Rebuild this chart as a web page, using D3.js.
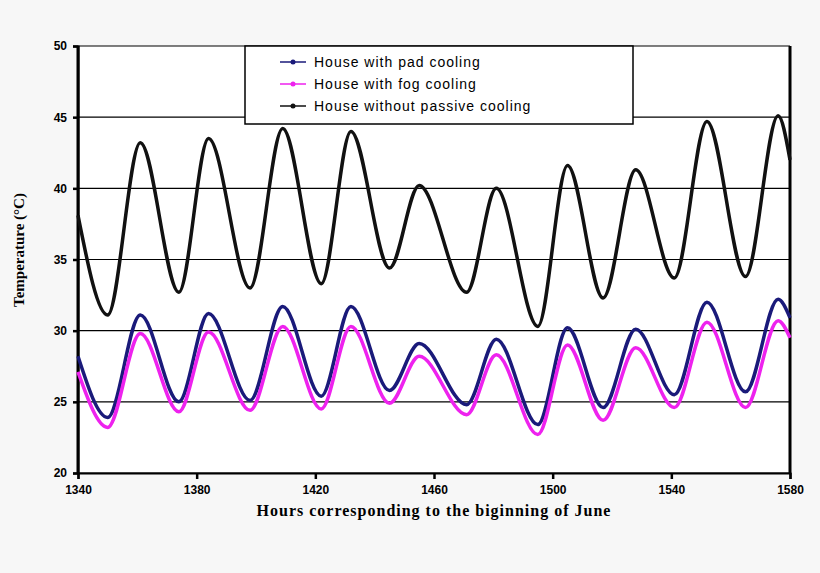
<!DOCTYPE html>
<html><head><meta charset="utf-8">
<script src="https://cdn.jsdelivr.net/npm/d3@7"></script>
<style>body{margin:0;background:#f7f7f7;}svg{display:block;font-family:"Liberation Sans",Arial,sans-serif;}</style>
</head><body>
<svg id="chart" width="820" height="573"></svg>
<script>
// hours of daily extremes
const hours = [1340,1350,1361,1374,1384,1398,1409,1422,1432,1445,1455,1471,1481,1495,1505,1517,1528,1541,1552,1565,1576,1580];
const padCooling = [28.2,23.9,31.1,25.0,31.2,25.1,31.7,25.4,31.7,25.8,29.1,24.8,29.4,23.4,30.2,24.6,30.1,25.5,32.0,25.7,32.2,30.9];
const fogCooling = [27.1,23.2,29.8,24.3,29.9,24.4,30.3,24.5,30.3,24.9,28.2,24.1,28.3,22.7,29.0,23.7,28.8,24.6,30.6,24.6,30.7,29.5];
const noCooling  = [38.1,31.1,43.2,32.7,43.5,33.0,44.2,33.3,44.0,34.4,40.2,32.7,40.0,30.3,41.6,32.3,41.3,33.7,44.7,33.8,45.1,42.0];
const xTicks = [1340,1380,1420,1460,1500,1540,1580];
const yTicks = [20,25,30,35,40,45,50];
const seriesNames = ['House with pad cooling','House with fog cooling','House without passive cooling'];
const seriesColors = ['#1a1a7a','#ee22ee','#111111'];

const svg = d3.select('#chart');
const m = {l:78, r:790, t:46, b:473};
const x = d3.scaleLinear().domain([1340,1580]).range([m.l,m.r]);
const y = d3.scaleLinear().domain([20,50]).range([m.b,m.t]);

svg.append('rect').attr('x',m.l).attr('y',m.t).attr('width',m.r-m.l).attr('height',m.b-m.t).attr('fill','#fff');

// grid
svg.selectAll('line.grid').data(yTicks).join('line')
  .attr('x1',m.l).attr('x2',m.r).attr('y1',d=>y(d)).attr('y2',d=>y(d))
  .attr('stroke','#000').attr('stroke-width',1.2);

svg.append('line').attr('x1',m.l).attr('x2',m.l).attr('y1',m.t).attr('y2',m.b).attr('stroke','#000').attr('stroke-width',3);
svg.append('line').attr('x1',m.r).attr('x2',m.r).attr('y1',m.t).attr('y2',m.b).attr('stroke','#000').attr('stroke-width',3);

// axes
const xa = svg.append('g').attr('transform','translate(0,'+m.b+')')
  .call(d3.axisBottom(x).tickValues(xTicks).tickFormat(d3.format('d')).tickSize(6).tickPadding(6));
const ya = svg.append('g').attr('transform','translate('+m.l+',0)')
  .call(d3.axisLeft(y).tickValues(yTicks).tickSize(5).tickPadding(6));
[xa,ya].forEach(g=>{
  g.select('.domain').attr('stroke','#000').attr('stroke-width',2);
  g.selectAll('.tick line').attr('stroke','#000').attr('stroke-width',2.5);
  g.selectAll('text').attr('font-size',12).attr('font-weight','bold').attr('fill','#000');
});

// lines
const line = d3.line().x(d=>x(d[0])).y(d=>y(d[1])).curve(d3.curveMonotoneX);
[padCooling,fogCooling,noCooling].forEach((vals,i)=>{
  svg.append('path').datum(hours.map((h,j)=>[h,vals[j]]))
    .attr('d',line).attr('fill','none').attr('stroke',seriesColors[i]).attr('stroke-width',3.5);
});

// legend
const lg = svg.append('g');
lg.append('rect').attr('x',245).attr('y',46).attr('width',388).attr('height',78)
  .attr('fill','#fff').attr('stroke','#000').attr('stroke-width',1.5);
seriesNames.forEach((n,i)=>{
  const yy = 62+i*22;
  lg.append('line').attr('x1',280).attr('x2',306).attr('y1',yy).attr('y2',yy).attr('stroke',seriesColors[i]).attr('stroke-width',1.5);
  lg.append('circle').attr('cx',293).attr('cy',yy).attr('r',2.5).attr('fill',seriesColors[i]);
  lg.append('text').attr('x',314).attr('y',yy+5).attr('font-size',14).attr('letter-spacing',1).attr('fill','#000').text(n);
});

// titles
svg.append('text').attr('x',434).attr('y',516).attr('text-anchor','middle')
  .attr('font-size',16).attr('font-weight','bold').attr('font-family','"Liberation Serif",serif').attr('letter-spacing',1)
  .text('Hours corresponding to the biginning of June');
svg.append('text').attr('transform','translate(24,250) rotate(-90)').attr('text-anchor','middle')
  .attr('font-size',15).attr('font-weight','bold').attr('font-family','"Liberation Serif",serif')
  .text('Temperature (°C)');
</script>
</body></html>
